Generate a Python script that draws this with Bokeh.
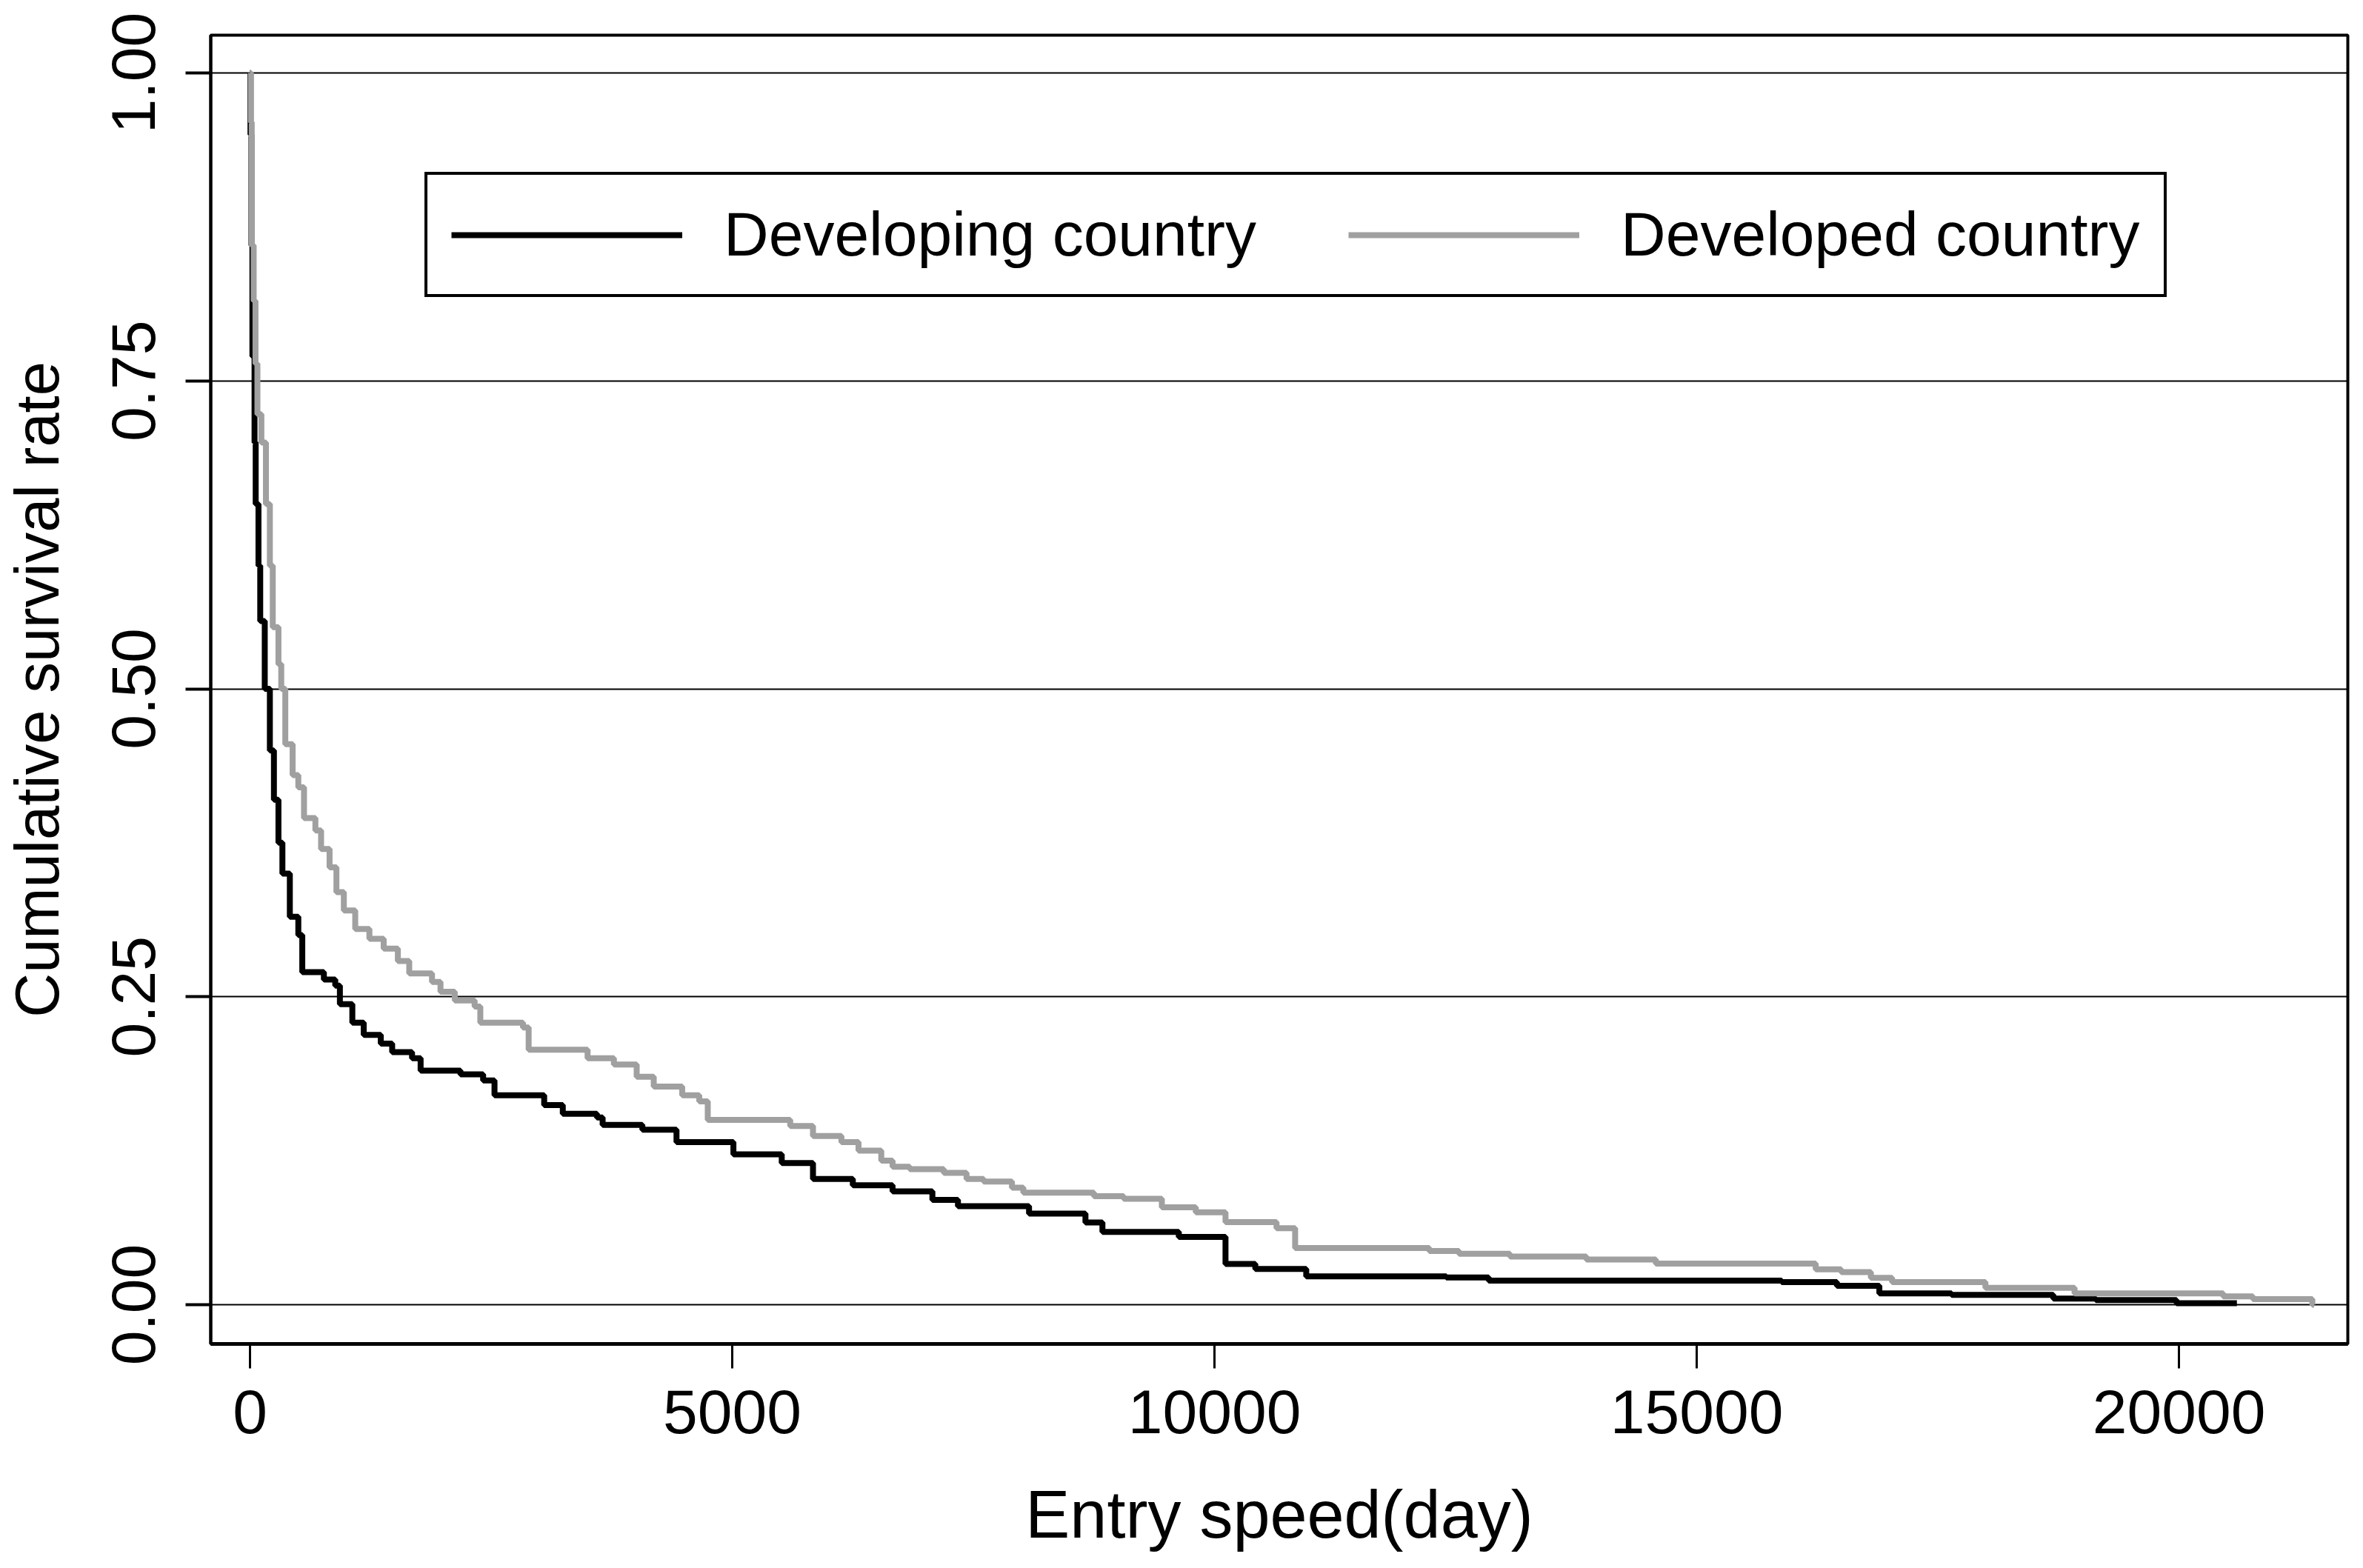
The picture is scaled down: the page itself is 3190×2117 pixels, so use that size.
from bokeh.plotting import figure
from bokeh.models import Range1d, FixedTicker, PrintfTickFormatter, Legend, LegendItem
from bokeh.embed import file_html
from bokeh.resources import INLINE

# Developing country (black) Kaplan-Meier steps: day, survival after that day
developing_days = [0, 5, 15, 25, 47, 59, 88, 106, 153, 206, 248, 295, 336, 413, 501, 542,
                   766, 884, 932, 1061, 1179, 1356, 1474, 1680, 1769, 2182, 2417, 2535, 3050,
                   3243, 3597, 3656, 4068, 4422, 5012, 5513, 5837, 6250, 6662, 7075, 7340,
                   8077, 8662, 8838, 9630, 10114, 10423, 10951, 12403, 12843, 15880, 16453,
                   16893, 17641, 18697, 19137, 19974, 20600]
developing_surv = [1.0, 0.95, 0.86, 0.77, 0.70, 0.65, 0.60, 0.555, 0.50, 0.45, 0.41, 0.375,
                   0.35, 0.315, 0.30, 0.27, 0.264, 0.259, 0.244, 0.229, 0.219, 0.212, 0.205,
                   0.200, 0.190, 0.187, 0.182, 0.170, 0.162, 0.155, 0.152, 0.146, 0.142,
                   0.132, 0.122, 0.115, 0.102, 0.097, 0.092, 0.085, 0.080, 0.074, 0.0667,
                   0.059, 0.055, 0.033, 0.029, 0.023, 0.022, 0.0195, 0.0183, 0.0153, 0.0091,
                   0.0080, 0.0050, 0.0038, 0.0011, 0.0011]

# Developed country (grey)
developed_days = [0, 10, 18, 38, 57, 77, 118, 165, 206, 236, 295, 324, 366, 442, 501, 560,
                  678, 737, 825, 896, 973, 1091, 1238, 1386, 1533, 1651, 1887, 1975, 2123,
                  2329, 2388, 2830, 2889, 3500, 3773, 4009, 4186, 4481, 4658, 4746, 5601,
                  5837, 6132, 6309, 6545, 6662, 6840, 7193, 7429, 7606, 7900, 8018, 8750,
                  9058, 9454, 9806, 10114, 10643, 10836, 12227, 12535, 13063, 13855, 14576,
                  16233, 16497, 16805, 17025, 17993, 18917, 20458, 20766, 21382, 21400]
developed_surv = [1.0, 0.96, 0.86, 0.815, 0.764, 0.723, 0.70, 0.65, 0.60, 0.55, 0.52, 0.50,
                  0.455, 0.43, 0.42, 0.395, 0.385, 0.37, 0.355, 0.335, 0.32, 0.305, 0.297,
                  0.289, 0.279, 0.269, 0.262, 0.254, 0.247, 0.242, 0.229, 0.225, 0.207,
                  0.200, 0.195, 0.185, 0.177, 0.170, 0.165, 0.150, 0.145, 0.137, 0.132,
                  0.125, 0.117, 0.112, 0.110, 0.107, 0.102, 0.100, 0.095, 0.091, 0.088,
                  0.086, 0.079, 0.075, 0.067, 0.062, 0.046, 0.0436, 0.0413, 0.039, 0.0367,
                  0.0333, 0.0287, 0.0264, 0.0218, 0.0183, 0.0137, 0.0091, 0.0068, 0.0045,
                  0.0, 0.0]

x_ticks = [0, 5000, 10000, 15000, 20000]
y_ticks = [0.0, 0.25, 0.5, 0.75, 1.0]
series_names = ["Developing country", "Developed country"]
x_title = "Entry speed(day)"
y_title = "Cumulative survival rate"

FONT = "Liberation Sans"

p = figure(width=3190, height=2117,
           x_range=Range1d(-407, 21750), y_range=Range1d(-0.0319, 1.0307),
           output_backend="svg", toolbar_location=None,
           min_border_left=283, min_border_right=21, min_border_top=47, min_border_bottom=303)
p.background_fill_color = "white"
p.border_fill_color = "white"
p.outline_line_color = "black"
p.outline_line_width = 4

r_dev = p.step(developing_days, developing_surv, mode="after",
               line_color="#000000", line_width=8)
r_dvd = p.step(developed_days, developed_surv, mode="after",
               line_color="#a0a0a0", line_width=8)

# grid
p.xgrid.grid_line_color = None
p.ygrid.ticker = FixedTicker(ticks=y_ticks)
p.ygrid.grid_line_color = "black"
p.ygrid.grid_line_width = 2

# x axis
xa = p.xaxis[0]
xa.ticker = FixedTicker(ticks=x_ticks)
xa.formatter = PrintfTickFormatter(format="%d")
xa.axis_line_width = 5
xa.axis_line_color = "black"
xa.major_tick_in = 0
xa.major_tick_out = 33
xa.major_tick_line_width = 3
xa.major_tick_line_color = "black"
xa.minor_tick_line_color = None
xa.major_label_text_font = FONT
xa.major_label_text_font_size = "84px"
xa.major_label_text_color = "black"
xa.major_label_standoff = 29
xa.axis_label = x_title
xa.axis_label_text_font = FONT
xa.axis_label_text_font_size = "90px"
xa.axis_label_text_font_style = "normal"
xa.axis_label_text_color = "black"
xa.axis_label_standoff = 57

# y axis
ya = p.yaxis[0]
ya.ticker = FixedTicker(ticks=y_ticks)
ya.formatter = PrintfTickFormatter(format="%.2f")
ya.axis_line_width = 4
ya.axis_line_color = "black"
ya.major_tick_in = 0
ya.major_tick_out = 34
ya.major_tick_line_width = 4
ya.major_tick_line_color = "black"
ya.minor_tick_line_color = None
ya.major_label_orientation = "vertical"
ya.major_label_text_font = FONT
ya.major_label_text_font_size = "84px"
ya.major_label_text_color = "black"
ya.major_label_standoff = 41
ya.axis_label = y_title
ya.axis_label_text_font = FONT
ya.axis_label_text_font_size = "83px"
ya.axis_label_text_font_style = "normal"
ya.axis_label_text_color = "black"
ya.axis_label_standoff = 52

legend = Legend(items=[LegendItem(label=series_names[0], renderers=[r_dev]),
                       LegendItem(label=series_names[1], renderers=[r_dvd])],
                location=(289, 1413), orientation="horizontal",
                glyph_width=312, glyph_height=20, label_standoff=56, spacing=124,
                padding=32, margin=0,
                border_line_color="black", border_line_width=4, border_line_alpha=1.0,
                background_fill_color="white", background_fill_alpha=1.0,
                label_text_font=FONT, label_text_font_size="84px", label_text_color="black")
p.add_layout(legend)

open("out.html", "w").write(file_html(p, INLINE))
